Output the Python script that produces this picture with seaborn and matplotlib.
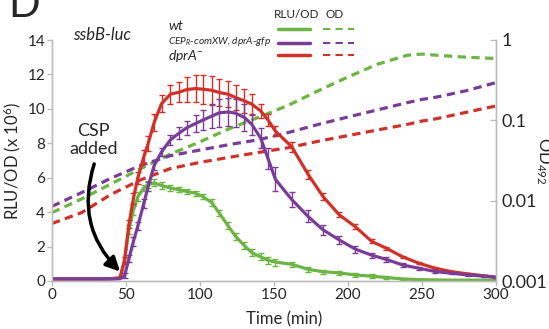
import numpy as np
import matplotlib
matplotlib.use("Agg")
import matplotlib.pyplot as plt
from matplotlib.lines import Line2D
from matplotlib.ticker import NullLocator
import seaborn as sns

# -----------------------------
# Data
# -----------------------------
strain_labels = ["wt", "CEP$_R$-comXW, dprA-gfp", "dprA$^{-}$"]
colors = ["#6cb444", "#7a3d97", "#d03129"]

time_rlu = [0, 10, 20, 30, 40, 46, 49, 52, 55, 58, 62, 65, 69, 74, 80, 86, 91, 97, 102, 108,
            113, 119, 124, 130, 135, 141, 146, 151, 162, 173, 183, 194, 205, 216, 226, 237,
            248, 259, 270, 281, 292, 300]

rlu_wt = [0.12, 0.12, 0.12, 0.12, 0.13, 0.15, 1.2, 3.0, 4.1, 4.9, 5.4, 5.6, 5.7, 5.55, 5.4,
          5.3, 5.2, 5.1, 4.9, 4.55, 3.95, 3.2, 2.6, 2.05, 1.65, 1.4, 1.2, 1.1, 0.97, 0.68,
          0.54, 0.47, 0.35, 0.28, 0.2, 0.12, 0.08, 0.06, 0.05, 0.05, 0.05, 0.05]
err_wt = [0, 0, 0, 0, 0, 0, 0.2, 0.25, 0.25, 0.25, 0.2, 0.2, 0.2, 0.2, 0.15, 0.15, 0.15,
          0.15, 0.15, 0.2, 0.2, 0.2, 0.2, 0.2, 0.2, 0.2, 0.2, 0.2, 0.15, 0.15, 0.12, 0.12,
          0.1, 0.1, 0.08, 0.06, 0.05, 0.04, 0.03, 0.03, 0.03, 0.03]

rlu_comxw = [0.12, 0.12, 0.12, 0.12, 0.12, 0.13, 0.3, 1.3, 2.3, 3.2, 4.5, 5.5, 6.7, 7.5, 8.2,
             8.6, 8.9, 9.15, 9.35, 9.58, 9.77, 9.82, 9.75, 9.5, 9.1, 8.3, 7.1, 5.9, 4.73, 3.75,
             2.98, 2.39, 1.85, 1.5, 1.25, 0.93, 0.74, 0.55, 0.45, 0.35, 0.28, 0.22]
err_comxw = [0, 0, 0, 0, 0, 0, 0.15, 0.2, 0.25, 0.25, 0.25, 0.25, 0.25, 0.25, 0.3, 0.35, 0.4,
             0.5, 0.6, 0.7, 0.8, 0.8, 0.8, 0.8, 0.6, 0.6, 0.6, 0.7, 0.45, 0.35, 0.3, 0.25,
             0.2, 0.15, 0.12, 0.1, 0.08, 0.06, 0.05, 0.04, 0.03, 0.03]

rlu_dpra = [0.12, 0.12, 0.12, 0.12, 0.13, 0.2, 1.2, 3.3, 4.8, 6.0, 7.2, 8.0, 9.2, 10.3, 10.85,
            10.97, 11.12, 11.18, 11.14, 11.08, 10.95, 10.85, 10.66, 10.46, 10.27, 9.88, 9.35,
            8.7, 7.8, 6.2, 4.92, 3.85, 3.15, 2.3, 1.9, 1.4, 1.03, 0.74, 0.54, 0.41, 0.3, 0.22]
err_dpra = [0, 0, 0, 0, 0, 0, 0.2, 0.25, 0.3, 0.35, 0.4, 0.45, 0.5, 0.5, 0.55, 0.6, 0.75,
            0.8, 0.85, 0.85, 0.8, 0.75, 0.7, 0.7, 0.6, 0.4, 0.35, 0.3, 0.3, 0.25, 0.2, 0.15,
            0.15, 0.12, 0.1, 0.08, 0.06, 0.06, 0.05, 0.04, 0.03, 0.03]

time_od = [0, 20, 40, 60, 80, 100, 120, 140, 160, 180, 200, 220, 240, 250, 260, 280, 300]
od_wt = [0.0071, 0.0105, 0.0162, 0.0251, 0.038, 0.054, 0.079, 0.110, 0.155, 0.234, 0.347,
         0.50, 0.646, 0.668, 0.646, 0.61, 0.589]
od_comxw = [0.0085, 0.0126, 0.0191, 0.0275, 0.0363, 0.0427, 0.050, 0.0575, 0.0708, 0.089,
            0.110, 0.135, 0.166, 0.182, 0.195, 0.234, 0.295]
od_dpra = [0.0052, 0.0071, 0.0120, 0.0182, 0.0251, 0.030, 0.0347, 0.040, 0.0457, 0.055,
           0.0646, 0.0759, 0.089, 0.098, 0.105, 0.126, 0.151]

rlu_series = [rlu_wt, rlu_comxw, rlu_dpra]
err_series = [err_wt, err_comxw, err_dpra]
od_series = [od_wt, od_comxw, od_dpra]

# -----------------------------
# Style
# -----------------------------
sns.set_style("white")
plt.rcParams["font.family"] = ["Lato", "DejaVu Sans"]
plt.rcParams["mathtext.fontset"] = "custom"
plt.rcParams["mathtext.rm"] = "Lato"
plt.rcParams["mathtext.it"] = "Lato:italic"
spine_col = "#bdbdbd"

fig = plt.figure(figsize=(5.49, 3.29), dpi=100)
ax = fig.add_axes([52 / 549, 1 - 281 / 329, 444 / 549, 241 / 329])
ax2 = ax.twinx()
ax.set_zorder(ax2.get_zorder() + 1)
ax.patch.set_visible(False)

# OD (dashed, right log axis)
ax2.set_yscale("log")
for od, c in zip(od_series, colors):
    sns.lineplot(x=time_od, y=od, ax=ax2, color=c, lw=2.3, errorbar=None)
    ax2.lines[-1].set_dashes((2.6, 1.7))

# RLU/OD (solid + error bars), purple drawn last
for i in [0, 2, 1]:
    y = np.array(rlu_series[i])
    e = np.array(err_series[i])
    t = np.array(time_rlu)
    sns.lineplot(x=t, y=y, ax=ax, color=colors[i], lw=2.3, errorbar=None)
    m = e > 0
    ax.errorbar(t[m], y[m], yerr=e[m], fmt="none", ecolor=colors[i],
                elinewidth=1, capsize=2.5, capthick=1)

# axes
ax.set_xlim(0, 300)
ax.set_ylim(0, 14)
ax2.set_ylim(0.001, 1)
ax.set_xticks(range(0, 301, 50))
ax.set_yticks(range(0, 15, 2))
ax2.set_yticks([0.001, 0.01, 0.1, 1])
ax2.set_yticklabels(["0.001", "0.01", "0.1", "1"])
ax2.yaxis.set_minor_locator(NullLocator())

for a in (ax, ax2):
    a.spines["top"].set_visible(False)
    for s in a.spines.values():
        s.set_color(spine_col)
        s.set_linewidth(1)
ax.tick_params(axis="both", direction="out", length=3.5, width=1, color=spine_col,
               labelsize=11, pad=1.5, left=True, bottom=True)
ax2.tick_params(axis="y", direction="in", length=4, width=1, color=spine_col,
                labelsize=13, pad=4, right=True)

ax.set_xlabel("Time (min)", fontsize=12, va="center")
ax.xaxis.set_label_coords((284 - 52) / 444, -0.158)
ax.set_ylabel(r"RLU/OD (x 10$^6$)", fontsize=12, labelpad=3)
ax2.set_ylabel(r"OD$_{492}$", fontsize=12, rotation=270, va="center", ha="center")
ax2.yaxis.set_label_coords(1.108, 0.5)

# annotation
ax.text(28, 8.2, "CSP\nadded", fontsize=13, ha="center", va="center", linespacing=1.2)
ax.annotate("", xy=(46, 0.55), xytext=(28.5, 6.8),
            arrowprops=dict(arrowstyle="-|>,head_length=0.7,head_width=0.35",
                            color="black", lw=2.5, mutation_scale=12,
                            connectionstyle="arc3,rad=0.3", shrinkA=0, shrinkB=0))

# panel letter and title
fig.text(8 / 549, 1 - 17 / 329, "D", fontsize=30, va="baseline")
fig.text(73 / 549, 1 - 35 / 329, "ssbB-luc", fontsize=12, style="italic", va="center")

# legend drawn by hand
fig.text(297 / 549, 1 - 15 / 329, "RLU/OD", fontsize=8.5, ha="center", va="center")
fig.text(335 / 549, 1 - 15 / 329, "OD", fontsize=8.5, ha="center", va="center")
row_y = [29, 43, 55]
lab_y = [26, 42, 56]
lab_size = [10, 7.3, 10]
for i, c in enumerate(colors):
    yy = 1 - row_y[i] / 329
    fig.add_artist(Line2D([278 / 549, 310 / 549], [yy, yy], transform=fig.transFigure,
                          color=c, lw=2.5))
    fig.add_artist(Line2D([323 / 549, 354 / 549], [yy, yy], transform=fig.transFigure,
                          color=c, lw=1.5, dashes=(3.5, 2.5)))
    fig.text(168 / 549, 1 - lab_y[i] / 329, strain_labels[i], fontsize=lab_size[i],
             style="italic", va="center")

fig.savefig("out.png", dpi=100)
